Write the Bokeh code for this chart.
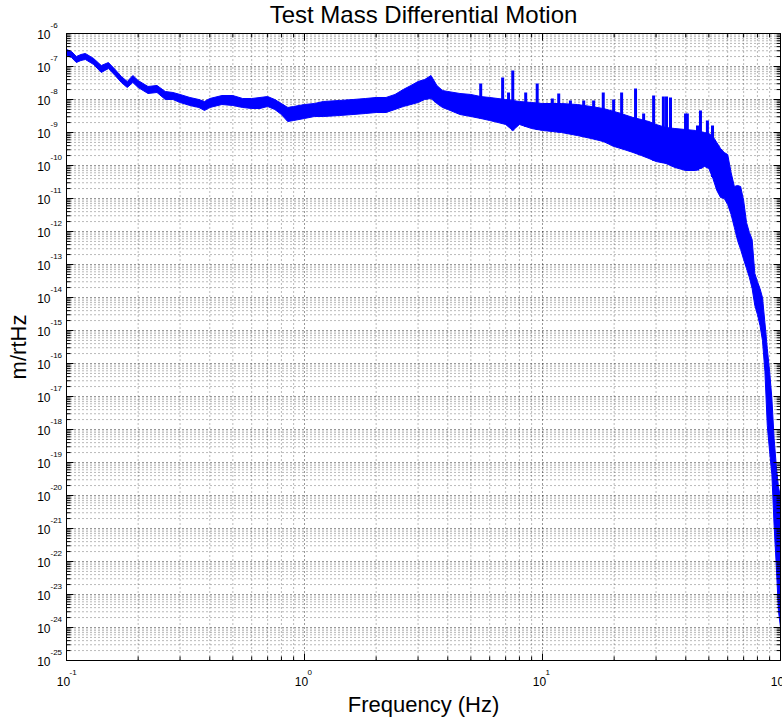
import math
from bokeh.plotting import figure
from bokeh.core.properties import value
from bokeh.embed import file_html
from bokeh.resources import INLINE

# ---------------- data ----------------
freq = [0.1, 0.105, 0.11, 0.115, 0.12,
        0.13, 0.14, 0.15, 0.16, 0.17,
        0.18, 0.19, 0.2, 0.22, 0.24,
        0.26, 0.28, 0.3, 0.33, 0.36,
        0.38, 0.4, 0.45, 0.5, 0.55,
        0.6, 0.65, 0.7, 0.75, 0.8,
        0.85, 0.9, 1.0, 1.1, 1.2,
        1.4, 1.6, 1.8, 2.0, 2.2,
        2.4, 2.6, 2.8, 3.0, 3.2,
        3.4, 3.6, 3.8, 4.0, 4.5,
        5.0, 5.5, 6.0, 6.5, 7.0,
        7.5, 8.0, 9.0, 10, 11,
        12, 14, 16, 18, 20,
        22, 24, 26, 28, 30,
        33, 36, 40, 44, 48,
        50, 52, 54, 56, 58,
        60, 62, 64, 66, 68,
        70, 72, 74, 76, 78,
        80, 82, 84, 86, 88,
        90, 92, 94, 96, 98,
        100]

upper = [3.27e-7, 2.85e-7, 2.01e-7, 2.31e-7, 2.48e-7,
         1.75e-7, 1.07e-7, 1.32e-7, 8.11e-8, 4.98e-8,
         3.51e-8, 5.34e-8, 3.76e-8, 2.48e-8, 2.66e-8,
         1.75e-8, 1.63e-8, 1.42e-8, 1.15e-8, 1.0e-8,
         8.70e-9, 1.07e-8, 1.32e-8, 1.32e-8, 1.07e-8,
         1.07e-8, 1.15e-8, 1.23e-8, 1.0e-8, 7.56e-9,
         5.72e-9, 6.14e-9, 7.05e-9, 7.56e-9, 8.70e-9,
         9.33e-9, 1.0e-8, 1.07e-8, 1.15e-8, 1.15e-8,
         1.42e-8, 2.01e-8, 2.66e-8, 3.51e-8, 4.04e-8,
         5.34e-8, 2.66e-8, 1.87e-8, 1.75e-8, 1.52e-8,
         1.42e-8, 1.23e-8, 1.15e-8, 1.07e-8, 1.0e-8,
         9.33e-9, 8.70e-9, 8.11e-9, 7.56e-9, 7.56e-9,
         7.56e-9, 7.05e-9, 6.14e-9, 5.34e-9, 4.33e-9,
         3.51e-9, 2.85e-9, 2.48e-9, 2.15e-9, 1.75e-9,
         1.42e-9, 1.32e-9, 1.23e-9, 1.15e-9, 1.0e-9,
         9.33e-10, 7.56e-10, 4.98e-10, 3.27e-10, 2.48e-10,
         2.15e-10, 6.14e-11, 2.31e-11, 2.48e-11, 2.31e-11,
         8.70e-12, 1.87e-12, 9.33e-13, 5.72e-13, 5.34e-14,
         3.05e-14, 1.87e-14, 1.0e-14, 1.75e-15, 2.85e-16,
         5.72e-17, 8.70e-18, 5.34e-19, 8.11e-20, 1.87e-20,
         8.70e-21]

lower = [2.15e-7, 1.87e-7, 1.32e-7, 1.52e-7, 1.63e-7,
         1.15e-7, 6.58e-8, 8.70e-8, 5.34e-8, 3.27e-8,
         2.31e-8, 3.27e-8, 2.31e-8, 1.52e-8, 1.63e-8,
         1.0e-8, 1.0e-8, 8.11e-9, 6.58e-9, 5.72e-9,
         4.64e-9, 5.72e-9, 7.05e-9, 6.58e-9, 5.72e-9,
         5.34e-9, 5.34e-9, 6.14e-9, 4.98e-9, 3.51e-9,
         2.15e-9, 2.31e-9, 2.66e-9, 3.05e-9, 3.05e-9,
         3.27e-9, 3.51e-9, 3.76e-9, 4.04e-9, 4.04e-9,
         4.98e-9, 6.14e-9, 7.05e-9, 8.11e-9, 1.0e-8,
         1.07e-8, 7.56e-9, 5.72e-9, 4.98e-9, 3.51e-9,
         3.05e-9, 2.66e-9, 2.31e-9, 2.01e-9, 1.75e-9,
         1.15e-9, 1.75e-9, 1.32e-9, 1.15e-9, 1.07e-9,
         1.0e-9, 8.11e-10, 6.58e-10, 5.34e-10, 3.76e-10,
         3.05e-10, 2.48e-10, 2.01e-10, 1.63e-10, 1.32e-10,
         1.15e-10, 8.70e-11, 7.05e-11, 7.05e-11, 9.33e-11,
         8.11e-11, 4.04e-11, 1.75e-11, 1.07e-11, 1.0e-11,
         6.58e-12, 3.27e-12, 1.32e-12, 5.34e-13, 2.85e-13,
         1.42e-13, 7.56e-14, 4.04e-14, 1.87e-14, 5.72e-15,
         3.05e-15, 1.42e-15, 4.98e-16, 5.72e-17, 1.32e-18,
         2.15e-19, 4.33e-20, 1.23e-21, 7.56e-23, 3.27e-24,
         1.0e-24]

spike_freq = [5.5, 6.8, 7.2, 7.5, 8.5, 9.5, 11.0, 11.7, 13.1, 14.9,
              16.4, 18.0, 19.9, 21.5, 24.6, 26.6, 29.3, 32.2, 33.2, 34.5,
              39.9, 40.6, 44.8, 46.1, 49.3, 51.8]
spike_top = [3.05e-8, 4.64e-8, 1.63e-8, 7.56e-8, 1.63e-8, 3.05e-8, 1.07e-8, 1.52e-8, 9.33e-9, 9.33e-9,
             9.33e-9, 1.63e-8, 1.0e-8, 1.63e-8, 2.15e-8, 3.76e-9, 1.32e-8, 1.23e-8, 1.23e-8, 1.15e-8,
             3.76e-9, 3.76e-9, 1.63e-9, 4.64e-9, 2.31e-9, 1.63e-9]
spike_base = [2.66e-9, 1.9e-9, 1.7e-9, 1.15e-9, 1.5e-9, 1.2e-9, 1.07e-9, 1.0e-9, 9.0e-10, 7.5e-10,
              6.5e-10, 5.3e-10, 3.8e-10, 3.3e-10, 2.4e-10, 2.0e-10, 1.4e-10, 1.2e-10, 1.15e-10, 1.05e-10,
              7.2e-11, 7.0e-11, 7.0e-11, 8.0e-11, 9.0e-11, 4.5e-11]

# axis limits, ticks and tick labels (MATLAB style: "10" with a raised exponent)
x_lim = (0.1, 100.0)
y_lim = (1e-25, 1e-6)
x_exponents = [-1, 0, 1, 2]
x_exp_labels = ["-1", "0", "1", "2"]
y_exponents = [-6, -7, -8, -9, -10, -11, -12, -13, -14, -15,
               -16, -17, -18, -19, -20, -21, -22, -23, -24, -25]
y_exp_labels = ["-6", "-7", "-8", "-9", "-10", "-11", "-12", "-13", "-14", "-15",
                "-16", "-17", "-18", "-19", "-20", "-21", "-22", "-23", "-24", "-25"]
base_label = "10"

title_text = "Test Mass Differential Motion"
x_label_text = "Frequency (Hz)"
y_label_text = "m/rtHz"

# ---------------- layout (pixels) ----------------
W, H = 782, 719
FRAME_L, FRAME_R, FRAME_T, FRAME_B = 66, 780, 33, 660
FONT = "Liberation Sans"
BLUE = "#0000FF"

# whole canvas is the plotting frame; extend the log ranges so that the
# data box lands at the reference's pixel box
lx0, lx1 = math.log10(x_lim[0]), math.log10(x_lim[1])
ly0, ly1 = math.log10(y_lim[0]), math.log10(y_lim[1])
ppd_x = (FRAME_R - FRAME_L) / (lx1 - lx0)
ppd_y = (FRAME_B - FRAME_T) / (ly1 - ly0)
x_range = (10 ** (lx0 - FRAME_L / ppd_x), 10 ** (lx1 + (W - FRAME_R) / ppd_x))
y_range = (10 ** (ly0 - (H - FRAME_B) / ppd_y), 10 ** (ly1 + FRAME_T / ppd_y))

p = figure(width=W, height=H, x_axis_type="log", y_axis_type="log",
           x_range=x_range, y_range=y_range,
           x_axis_location=None, y_axis_location=None, title=None,
           min_border=0, output_backend="svg", toolbar_location=None)
p.outline_line_color = None
p.background_fill_color = "white"
p.border_fill_color = "white"
p.grid.visible = False

x_major = [10.0 ** e for e in x_exponents]
x_minor = [m * 10.0 ** e for e in x_exponents[:-1] for m in range(2, 10)]
y_major = [10.0 ** e for e in y_exponents]
y_minor = [m * 10.0 ** e for e in y_exponents[1:] for m in range(2, 10)]

# ---------------- dotted grid ----------------
p.segment(x0=x_minor, x1=x_minor, y0=[y_lim[0]] * len(x_minor), y1=[y_lim[1]] * len(x_minor),
          line_color="black", line_dash="1 3", line_alpha=0.55)
p.segment(x0=[x_lim[0]] * len(y_minor), x1=[x_lim[1]] * len(y_minor), y0=y_minor, y1=y_minor,
          line_color="black", line_dash="1 3", line_alpha=0.55)
p.segment(x0=x_major, x1=x_major, y0=[y_lim[0]] * len(x_major), y1=[y_lim[1]] * len(x_major),
          line_color="black", line_dash="1 3", line_alpha=0.8)
p.segment(x0=[x_lim[0]] * len(y_major), x1=[x_lim[1]] * len(y_major), y0=y_major, y1=y_major,
          line_color="black", line_dash="1 3", line_alpha=0.8)

# ---------------- data marks ----------------
p.varea(x=freq, y1=lower, y2=upper, fill_color=BLUE, fill_alpha=1.0)
p.line(freq, upper, line_color=BLUE, line_width=1)
p.line(freq, lower, line_color=BLUE, line_width=1)
p.segment(x0=spike_freq, y0=spike_base, x1=spike_freq, y1=spike_top,
          line_color=BLUE, line_width=3)

# ---------------- box and inward ticks ----------------
p.quad(left=[x_lim[0]], right=[x_lim[1]], bottom=[y_lim[0]], top=[y_lim[1]],
       fill_color=None, line_color="black", line_width=1)


def ticks(xs, ys, length, angle):
    p.ray(x=xs, y=ys, length=length, length_units="screen", angle=angle,
          angle_units="deg", line_color="black", line_width=1)


for tl, xs, ys in ((7, x_major, y_major), (4, x_minor, y_minor)):
    ticks(xs, [y_lim[0]] * len(xs), tl, 90)
    ticks(xs, [y_lim[1]] * len(xs), tl, -90)
    ticks([x_lim[0]] * len(ys), ys, tl, 0)
    ticks([x_lim[1]] * len(ys), ys, tl, 180)

# ---------------- tick labels ----------------
small = dict(text_font=value(FONT), text_color="black")
p.text(x=[x_lim[0]] * len(y_major), y=y_major, text=[base_label] * len(y_major),
       x_offset=-16, y_offset=1, text_align="right", text_baseline="middle",
       text_font_size=value("12px"), **small)
p.text(x=[x_lim[0]] * len(y_major), y=y_major, text=y_exp_labels,
       x_offset=-16, y_offset=-8, text_align="left", text_baseline="middle",
       text_font_size=value("8px"), **small)
p.text(x=x_major, y=[y_lim[0]] * len(x_major), text=[base_label] * len(x_major),
       x_offset=-3, y_offset=21, text_align="center", text_baseline="middle",
       text_font_size=value("12px"), **small)
p.text(x=x_major, y=[y_lim[0]] * len(x_major), text=x_exp_labels,
       x_offset=3, y_offset=12, text_align="left", text_baseline="middle",
       text_font_size=value("8px"), **small)

# ---------------- title and axis labels ----------------
x_mid = math.sqrt(x_lim[0] * x_lim[1])
y_mid = math.sqrt(y_lim[0] * y_lim[1])
p.text(x=[x_mid], y=[y_lim[1]], text=[title_text], y_offset=-19,
       text_align="center", text_baseline="middle",
       text_font_size=value("24px"), **small)
p.text(x=[x_mid], y=[y_lim[0]], text=[x_label_text], y_offset=44,
       text_align="center", text_baseline="middle",
       text_font_size=value("22px"), **small)
p.text(x=[x_lim[0]], y=[y_mid], text=[y_label_text], x_offset=-48, angle=math.pi / 2,
       text_align="center", text_baseline="middle",
       text_font_size=value("22px"), **small)

open("out.html", "w").write(file_html(p, INLINE))
